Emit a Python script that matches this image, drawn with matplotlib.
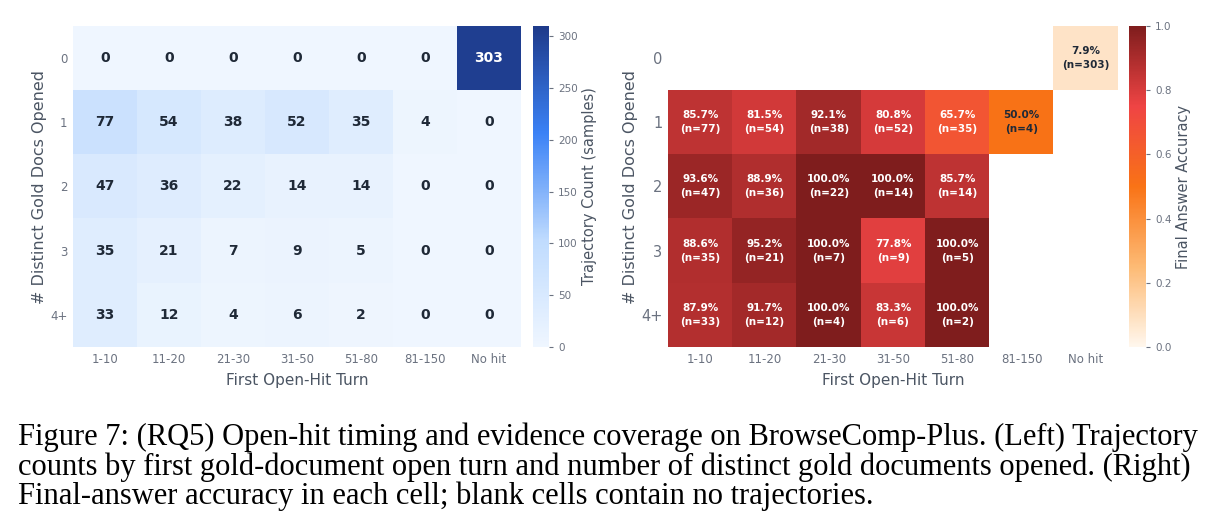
import numpy as np
import matplotlib
matplotlib.use("Agg")
import matplotlib.pyplot as plt
from matplotlib.colors import LinearSegmentedColormap

# ---------------- data ----------------
turn_bins = ["1-10", "11-20", "21-30", "31-50", "51-80", "81-150", "No hit"]
gold_docs = ["0", "1", "2", "3", "4+"]

counts_row0 = [0, 0, 0, 0, 0, 0, 303]
counts_row1 = [77, 54, 38, 52, 35, 4, 0]
counts_row2 = [47, 36, 22, 14, 14, 0, 0]
counts_row3 = [35, 21, 7, 9, 5, 0, 0]
counts_row4 = [33, 12, 4, 6, 2, 0, 0]

acc_row0 = [np.nan, np.nan, np.nan, np.nan, np.nan, np.nan, 7.9]
acc_row1 = [85.7, 81.5, 92.1, 80.8, 65.7, 50.0, np.nan]
acc_row2 = [93.6, 88.9, 100.0, 100.0, 85.7, np.nan, np.nan]
acc_row3 = [88.6, 95.2, 100.0, 77.8, 100.0, np.nan, np.nan]
acc_row4 = [87.9, 91.7, 100.0, 83.3, 100.0, np.nan, np.nan]

caption_lines = [
    "Figure 7: (RQ5) Open-hit timing and evidence coverage on BrowseComp-Plus. (Left) Trajectory",
    "counts by first gold-document open turn and number of distinct gold documents opened. (Right)",
    "Final-answer accuracy in each cell; blank cells contain no trajectories.",
]

counts = np.array([counts_row0, counts_row1, counts_row2, counts_row3, counts_row4], dtype=float)
acc = np.array([acc_row0, acc_row1, acc_row2, acc_row3, acc_row4], dtype=float) / 100.0

# ---------------- style ----------------
plt.rcParams["font.family"] = ["DejaVu Sans"]
TICK_C = "#6b7280"
LABEL_C = "#4b5563"
DARK_T = "#1f2937"

blue_cmap = LinearSegmentedColormap.from_list(
    "blues_custom", ["#eff6ff", "#bfdbfe", "#3b82f6", "#1e3a8a"])
red_cmap = LinearSegmentedColormap.from_list(
    "reds_custom", ["#fff7ed", "#fdba74", "#f97316", "#ef4444", "#7f1d1d"])

W, H = 1221, 530
fig = plt.figure(figsize=(W / 100, H / 100), dpi=100)
fig.patch.set_facecolor("white")


def px_axes(x0, y0, x1, y1):
    return fig.add_axes([x0 / W, 1 - y1 / H, (x1 - x0) / W, (y1 - y0) / H])


def style_heat(ax, ytick_size, ylabelpad):
    ax.set_xticks(range(len(turn_bins)))
    ax.set_xticklabels(turn_bins, fontsize=8.5, color=TICK_C)
    ax.set_yticks(range(len(gold_docs)))
    ax.set_yticklabels(gold_docs, fontsize=ytick_size, color=TICK_C)
    ax.tick_params(length=0, pad=4)
    for s in ax.spines.values():
        s.set_visible(False)
    ax.set_xlabel("First Open-Hit Turn", fontsize=11, color=LABEL_C, labelpad=5)
    ax.set_ylabel("# Distinct Gold Docs Opened", fontsize=11.5, color=LABEL_C,
                  labelpad=ylabelpad)


def style_cbar(cb, label):
    cb.outline.set_visible(False)
    cb.ax.tick_params(labelsize=7.5, colors=TICK_C, length=3, width=0.8)
    cb.ax.tick_params(which="minor", length=0)
    for t in cb.ax.get_yticklabels():
        t.set_color(TICK_C)
    cb.set_label(label, fontsize=10.5, color=LABEL_C, labelpad=3)


# ---------------- left: counts ----------------
axL = px_axes(73, 26, 521, 347)
imL = axL.imshow(counts, cmap=blue_cmap, vmin=0, vmax=310, aspect="auto",
                 interpolation="nearest")
style_heat(axL, 8.5, 2)
for i in range(counts.shape[0]):
    for j in range(counts.shape[1]):
        v = counts[i, j]
        axL.text(j, i, f"{int(v)}", ha="center", va="center", fontsize=10,
                 fontweight="bold", color="white" if v > 180 else DARK_T)

caxL = px_axes(533, 26, 549, 347)
cbL = fig.colorbar(imL, cax=caxL)
cbL.set_ticks([0, 50, 100, 150, 200, 250, 300])
style_cbar(cbL, "Trajectory Count (samples)")

# ---------------- right: accuracy ----------------
axR = px_axes(668, 26, 1118, 347)
acc_m = np.ma.masked_invalid(acc)
imR = axR.imshow(acc_m, cmap=red_cmap, vmin=0, vmax=1, aspect="auto",
                 interpolation="nearest")
style_heat(axR, 10.5, 2)
for i in range(acc.shape[0]):
    for j in range(acc.shape[1]):
        v = acc[i, j]
        if np.isnan(v):
            continue
        axR.text(j, i, f"{v * 100:.1f}%\n(n={int(counts[i, j])})", ha="center",
                 va="center", fontsize=7.5, fontweight="bold", linespacing=1.5,
                 color="white" if v > 0.6 else DARK_T)

caxR = px_axes(1129, 26, 1146, 347)
cbR = fig.colorbar(imR, cax=caxR)
cbR.set_ticks([0.0, 0.2, 0.4, 0.6, 0.8, 1.0])
style_cbar(cbR, "Final Answer Accuracy")

# ---------------- caption ----------------
for k, line in enumerate(caption_lines):
    fig.text(18 / W, 1 - (445 + 29.5 * k) / H, line, fontsize=22,
             family=["Liberation Serif", "DejaVu Serif"], color="black",
             ha="left", va="baseline")

fig.savefig("out.png", dpi=100)
